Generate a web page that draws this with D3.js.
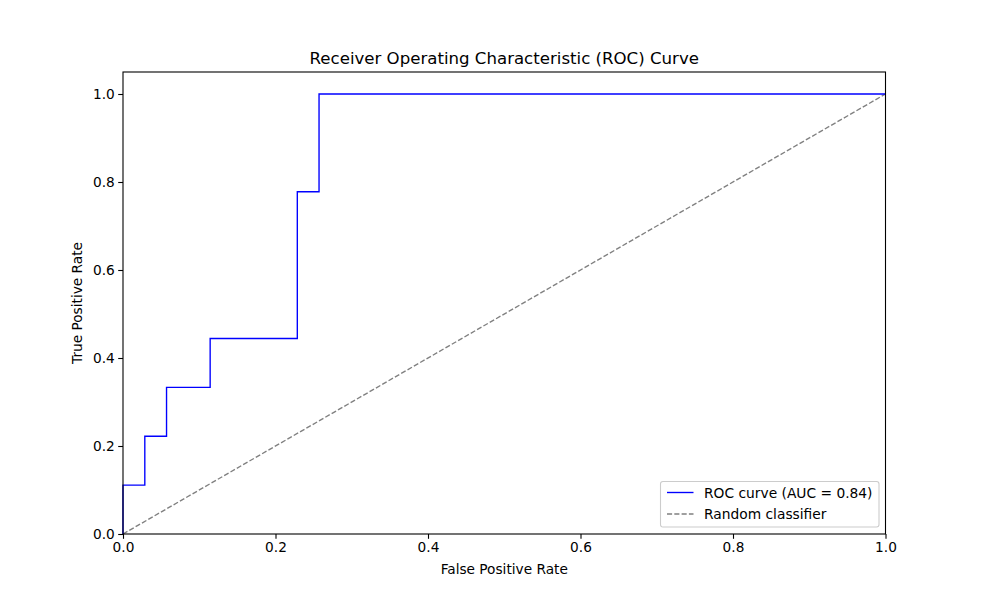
<!DOCTYPE html>
<html>
<head>
<meta charset="utf-8">
<script src="https://cdn.jsdelivr.net/npm/d3@7"></script>
<style>
  body { margin: 0; background: #fff; }
  text { font-family: "DejaVu Sans", sans-serif; }
</style>
</head>
<body>
<div id="wrapper"></div>
<script>
// ROC curve points
const fpr = [0, 0, 0.0286, 0.0286, 0.0571, 0.0571, 0.1143, 0.1143, 0.2286, 0.2286, 0.2571, 0.2571, 1];
const tpr = [0, 0.1111, 0.1111, 0.2222, 0.2222, 0.3333, 0.3333, 0.4444, 0.4444, 0.7778, 0.7778, 1, 1];
const diagX = [0, 1];
const diagY = [0, 1];
const xTicks = [0, 0.2, 0.4, 0.6, 0.8, 1.0];
const yTicks = [0, 0.2, 0.4, 0.6, 0.8, 1.0];
const legendLabels = ["ROC curve (AUC = 0.84)", "Random classifier"];

const W = 984, H = 600;
const m = {left: 123, right: 98.5, top: 72, bottom: 66};
const iw = W - m.left - m.right, ih = H - m.top - m.bottom;

const svg = d3.select("#wrapper").append("svg")
  .attr("width", W).attr("height", H);

const x = d3.scaleLinear().domain([0, 1]).range([0, iw]);
const y = d3.scaleLinear().domain([0, 1.05]).range([ih, 0]);

const g = svg.append("g").attr("transform", `translate(${m.left},${m.top})`);

const dash = "5.1,2.2";

// diagonal reference line
g.append("path")
  .datum(diagX.map((d, i) => [d, diagY[i]]))
  .attr("fill", "none")
  .attr("stroke", "#808080")
  .attr("stroke-width", 1.37)
  .attr("stroke-dasharray", dash)
  .attr("d", d3.line().x(d => x(d[0])).y(d => y(d[1])));

// roc curve
g.append("path")
  .datum(fpr.map((d, i) => [d, tpr[i]]))
  .attr("fill", "none")
  .attr("stroke", "#0000ff")
  .attr("stroke-width", 1.37)
  .attr("d", d3.line().x(d => x(d[0])).y(d => y(d[1])));

// axes
const fmt = d3.format(".1f");
const xAxis = g.append("g").attr("transform", `translate(0,${ih})`)
  .call(d3.axisBottom(x).tickValues(xTicks).tickFormat(fmt).tickSizeOuter(0).tickSize(4.8).tickPadding(3.4));
const yAxis = g.append("g")
  .call(d3.axisLeft(y).tickValues(yTicks).tickFormat(fmt).tickSizeOuter(0).tickSize(4.8).tickPadding(3.4));
[xAxis, yAxis].forEach(a => {
  a.select(".domain").remove();
  a.selectAll("line").attr("stroke", "#000").attr("stroke-width", 1.1);
  a.selectAll("text").attr("font-size", 13.7).attr("fill", "#000")
    .style("font-family", "DejaVu Sans, sans-serif");
});

// frame
g.append("rect").attr("width", iw).attr("height", ih)
  .attr("fill", "none").attr("stroke", "#000").attr("stroke-width", 1.1);

// labels
svg.append("text").attr("x", m.left + iw / 2).attr("y", 64)
  .attr("text-anchor", "middle").attr("font-size", 16.6)
  .text("Receiver Operating Characteristic (ROC) Curve");
svg.append("text").attr("x", m.left + iw / 2).attr("y", 574)
  .attr("text-anchor", "middle").attr("font-size", 13.7)
  .text("False Positive Rate");
svg.append("text")
  .attr("transform", `translate(82,${m.top + ih / 2}) rotate(-90)`)
  .attr("text-anchor", "middle").attr("font-size", 13.7)
  .text("True Positive Rate");

// legend
const lg = svg.append("g").attr("transform", "translate(660.5,481.5)");
lg.append("rect").attr("width", 218.5).attr("height", 45.5).attr("rx", 2.5)
  .attr("fill", "#fff").attr("fill-opacity", 0.8)
  .attr("stroke", "#cccccc").attr("stroke-width", 1.1);
const styles = [
  {stroke: "#0000ff", dash: null},
  {stroke: "#808080", dash: dash}
];
legendLabels.forEach((lab, i) => {
  const yy = 11 + i * 21.5;
  lg.append("line").attr("x1", 6.5).attr("x2", 33).attr("y1", yy).attr("y2", yy)
    .attr("stroke", styles[i].stroke).attr("stroke-width", 1.37)
    .attr("stroke-dasharray", styles[i].dash);
  lg.append("text").attr("x", 43.5).attr("y", yy + 5)
    .attr("font-size", 13.8).text(lab);
});
</script>
</body>
</html>
